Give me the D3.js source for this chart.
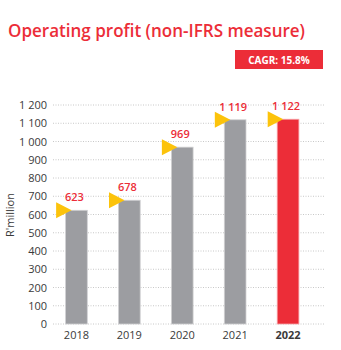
<!DOCTYPE html>
<html><head><meta charset="utf-8">
<script src="https://cdn.jsdelivr.net/npm/d3@7"></script>
<style>body{margin:0;background:#fff}svg{display:block}</style>
</head><body>
<script>
const years = ["2018","2019","2020","2021","2022"];
const values = [623, 678, 969, 1119, 1122];
const valueLabels = ["623","678","969","1 119","1 122"];
const yTicks = [0,100,200,300,400,500,600,700,800,900,1000,1100,1200];
const title = "Operating profit (non-IFRS measure)";
const cagr = "CAGR: 15.8%";
const yTitle = "R'million";

const W = 341, H = 350;
const red = "#ec2d38", gray = "#9c9da1", yellow = "#fcc30b", txt = "#3a3a3a";
const svg = d3.select("body").append("svg").attr("width", W).attr("height", H);

const x = d3.scaleBand().domain(years).range([50, 314.5]).paddingInner(0.59).paddingOuter(0.295);
const y = d3.scaleLinear().domain([0, 1200]).range([324, 105]);

svg.append("text").attr("x", 8).attr("y", 37).attr("fill", red)
  .attr("font-family", "'Open Sans', sans-serif").attr("font-size", 17.5).attr("font-weight", 600)
  .attr("textLength", 297).attr("lengthAdjust", "spacingAndGlyphs").text(title);

svg.append("rect").attr("x", 235).attr("y", 50).attr("width", 88).attr("height", 19).attr("fill", red);
svg.append("text").attr("x", 279).attr("y", 63.5).attr("text-anchor", "middle").attr("fill", "#fff")
  .attr("font-family", "'Open Sans', sans-serif").attr("font-size", 10).attr("font-weight", 700).text(cagr);

// gridlines
svg.append("g").selectAll("line").data(yTicks).join("line")
  .attr("x1", 53).attr("x2", 324).attr("y1", d => y(d)).attr("y2", d => y(d))
  .attr("stroke", "#c8c8c8").attr("stroke-width", 1).attr("stroke-dasharray", "1,1.5");

// y axis
const fmt = d => d3.format(",")(d).replace(/,/g, " ");
const yAxis = svg.append("g").attr("transform", "translate(47,0)")
  .call(d3.axisLeft(y).tickValues(yTicks).tickSize(0).tickPadding(0).tickFormat(fmt));
yAxis.select(".domain").remove();
yAxis.selectAll("text").attr("fill", txt).attr("font-family", "'Open Sans', sans-serif").attr("font-size", 11);

svg.append("text").attr("transform", "translate(14,215) rotate(-90)").attr("text-anchor", "middle")
  .attr("fill", txt).attr("font-family", "'Open Sans', sans-serif").attr("font-size", 11).text(yTitle);

// bars
svg.append("g").selectAll("rect").data(years).join("rect")
  .attr("x", d => x(d)).attr("width", x.bandwidth())
  .attr("y", (d, i) => y(values[i])).attr("height", (d, i) => y(0) - y(values[i]))
  .attr("fill", (d, i) => i === years.length - 1 ? red : gray)
  .attr("stroke", (d, i) => i === years.length - 1 ? "#f7a3a8" : "#d0d0d2").attr("stroke-width", 0.8);

// triangles
svg.append("g").selectAll("path").data(years).join("path")
  .attr("d", (d, i) => {
    const tx = x(d) + 6, ty = y(values[i]);
    return `M${tx},${ty} L${tx - 15.5},${ty - 8} L${tx - 15.5},${ty + 8} Z`;
  }).attr("fill", yellow);

// value labels
svg.append("g").selectAll("text").data(years).join("text")
  .attr("x", d => x(d) + x.bandwidth() / 2 - 2).attr("y", (d, i) => y(values[i]) - 9)
  .attr("text-anchor", "middle").attr("fill", red)
  .attr("font-family", "'Open Sans', sans-serif").attr("font-size", 11).attr("font-weight", 600)
  .text((d, i) => valueLabels[i]);

// x axis labels
svg.append("g").selectAll("text").data(years).join("text")
  .attr("x", d => x(d) + x.bandwidth() / 2).attr("y", 339)
  .attr("text-anchor", "middle").attr("fill", txt)
  .attr("font-family", "'Open Sans', sans-serif").attr("font-size", 11)
  .attr("font-weight", (d, i) => i === years.length - 1 ? 700 : 400)
  .text(d => d);
</script>
</body></html>
